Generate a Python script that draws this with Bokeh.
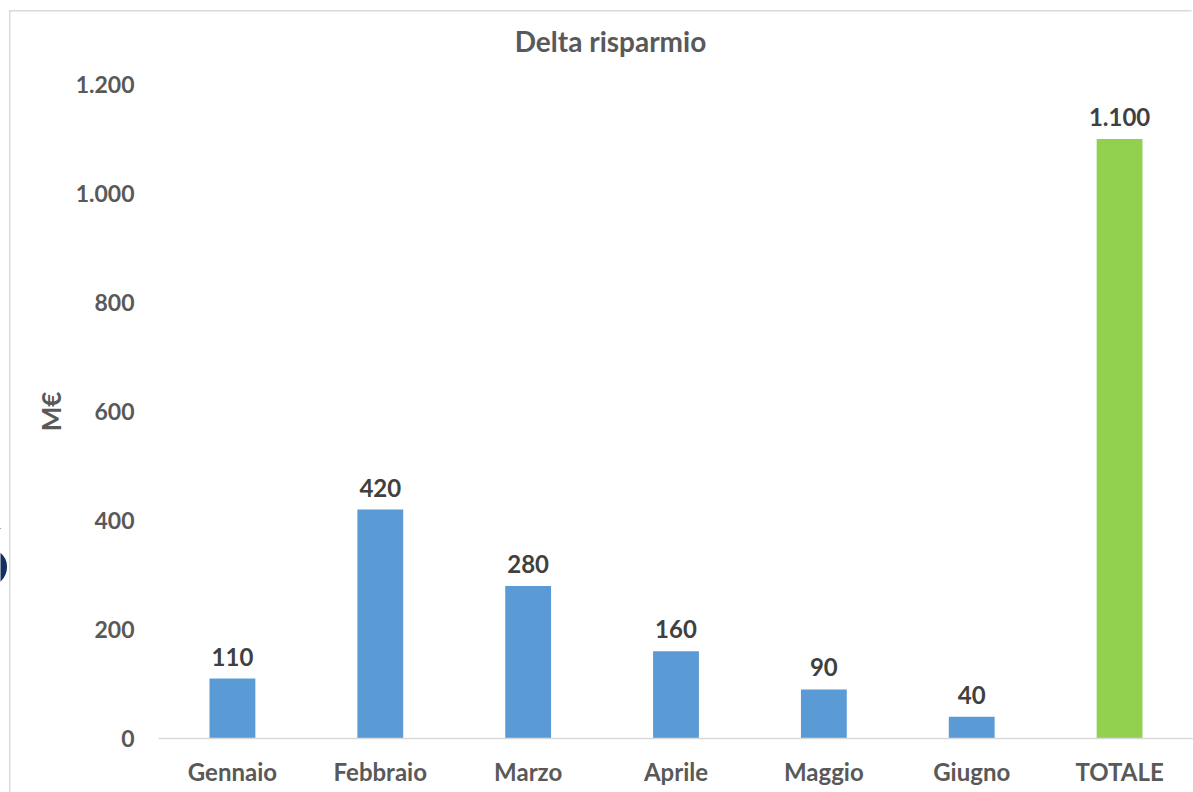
import math
from bokeh.plotting import figure
from bokeh.models import (ColumnDataSource, FactorRange, Range1d, FixedTicker, Label, Span)
from bokeh.layouts import row
from bokeh.core.properties import value
from bokeh.embed import file_html
from bokeh.resources import INLINE

# ---- data ----
categories = ["Gennaio", "Febbraio", "Marzo", "Aprile", "Maggio", "Giugno", "TOTALE"]
savings = [110, 420, 280, 160, 90, 40, 1100]
bar_colors = ["#5B9BD5"] * 6 + ["#92D050"]
y_ticks = [0, 200, 400, 600, 800, 1000, 1200]
y_tick_labels = ["0", "200", "400", "600", "800", "1.000", "1.200"]
title_text = "Delta risparmio"
y_label = "M€"

FONT = "Lato"
GREY = "#595959"
BORDER = "#D9D9D9"

# layout geometry (pixels)
W, H = 1193, 792
STRIP_W = 66           # left strip: slide fragment and y-axis title
FRAME_LEFT = 158       # page x of plot-area left edge
FRAME_BOTTOM = 738     # page y of the zero line
Y_TOP_TICK_PX = 84     # page y of the 1.200 tick
y_max = 1200 * FRAME_BOTTOM / (FRAME_BOTTOM - Y_TOP_TICK_PX)   # frame reaches the canvas top

value_labels = [f"{v:,}".replace(",", ".") for v in savings]
src = ColumnDataSource(dict(cat=categories, val=savings, color=bar_colors, lab=value_labels))

p = figure(width=W - STRIP_W, height=H, x_range=FactorRange(factors=categories, range_padding=0),
           y_range=Range1d(0, y_max), output_backend="svg", toolbar_location=None,
           min_border_left=FRAME_LEFT - STRIP_W, min_border_right=0, min_border_top=0,
           min_border_bottom=H - FRAME_BOTTOM)
p.background_fill_color = None
p.border_fill_color = None
p.outline_line_color = None
p.xgrid.grid_line_color = None
p.ygrid.grid_line_color = None

p.vbar(x="cat", top="val", width=0.31, color="color", line_color=None, source=src)
p.text(x="cat", y="val", text="lab", source=src, text_align="center", text_baseline="alphabetic",
       y_offset=-22, text_font=value(FONT), text_font_style="bold", text_font_size="24px",
       text_color="#404040")

# y axis
p.yaxis.ticker = FixedTicker(ticks=y_ticks)
p.yaxis.major_label_overrides = {t: l for t, l in zip(y_ticks, y_tick_labels)}
p.yaxis.axis_line_color = None
p.yaxis.major_tick_line_color = None
p.yaxis.minor_tick_line_color = None
p.yaxis.major_label_standoff = 18
p.yaxis.major_label_text_font = FONT
p.yaxis.major_label_text_font_style = "bold"
p.yaxis.major_label_text_font_size = "23px"
p.yaxis.major_label_text_color = GREY

# x axis
p.xaxis.axis_line_color = BORDER
p.xaxis.axis_line_width = 1.5
p.xaxis.major_tick_line_color = None
p.xaxis.minor_tick_line_color = None
p.xaxis.major_label_standoff = 12
p.xaxis.major_label_text_font = FONT
p.xaxis.major_label_text_font_style = "bold"
p.xaxis.major_label_text_font_size = "24px"
p.xaxis.major_label_text_color = GREY

# keep the right edge of the plot area clean (no edge line)
p.add_layout(Span(location=len(categories), dimension="height", line_color="#FFFFFF",
                  line_width=4))

# title, inside the (tall) frame, centred on the chart box
title_px_x, title_px_y = 610, 40
px_per_cat = (W - FRAME_LEFT) / len(categories)
p.add_layout(Label(x=(title_px_x - FRAME_LEFT) / px_per_cat,
                   y=(FRAME_BOTTOM - title_px_y) * y_max / FRAME_BOTTOM,
                   text=title_text, text_align="center", text_baseline="middle",
                   text_font=FONT, text_font_style="bold", text_font_size="28px",
                   text_color=GREY))

# left strip (its frame is aligned with the main frame: page y 0..738)
s = figure(width=STRIP_W, height=H, x_range=Range1d(0, STRIP_W), y_range=Range1d(FRAME_BOTTOM, 0),
           output_backend="svg", toolbar_location=None, x_axis_location=None,
           y_axis_location=None, min_border=0)
s.outline_line_color = None
s.grid.visible = False
s.background_fill_color = None
s.border_fill_color = None
# y-axis title, centred on the 0..1.200 span
s.add_layout(Label(x=50, y=(FRAME_BOTTOM + Y_TOP_TICK_PX) / 2, text=y_label, angle=math.pi / 2,
                   text_align="center", text_baseline="middle", text_font=FONT,
                   text_font_style="bold", text_font_size="26px", text_color=GREY))
# cut-off slide number from the page behind the chart
s.add_layout(Label(x=-14, y=556, text="6", text_align="center", text_baseline="middle",
                   text_font=FONT, text_font_style="bold", text_font_size="80px",
                   text_color="#14305F"))

layout = row(s, p, spacing=0)
# light grey chart border (top and left edges)
layout.styles = {
    "background-color": "#FFFFFF",
    "background-image": (f"linear-gradient({BORDER}, {BORDER}), "
                         f"linear-gradient({BORDER}, {BORDER})"),
    "background-position": "9px 10px, 9px 10px",
    "background-size": "calc(100% - 9px) 1.5px, 1.5px calc(100% - 10px)",
    "background-repeat": "no-repeat, no-repeat",
}
open("out.html", "w").write(file_html(layout, INLINE))
